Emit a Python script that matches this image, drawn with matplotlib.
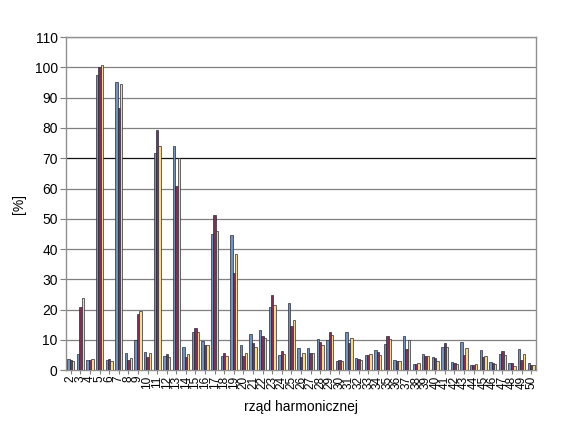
import matplotlib
matplotlib.use("Agg")
import matplotlib.pyplot as plt
import numpy as np

plt.rcParams['font.family'] = ['Liberation Sans', 'DejaVu Sans']

harmonics = list(range(2, 51))
series_a = [3.8, 5.3, 3.5, 97.4, 3.5, 95.3, 5.7, 9.9, 5.9, 71.6, 4.7, 74.2, 7.7, 12.7, 9.5, 45.0, 4.8, 44.8,
            8.2, 11.9, 13.1, 21.0, 4.9, 22.3, 7.3, 7.3, 10.3, 10.1, 3.1, 12.7, 4.1, 5.1, 6.6, 8.6, 3.3, 11.2,
            2.1, 5.3, 4.3, 7.6, 2.7, 9.2, 1.8, 6.8, 2.6, 5.3, 2.2, 6.9, 2.2]
series_b = [3.2, 21.0, 3.3, 100.3, 3.8, 86.7, 3.3, 18.4, 4.2, 79.3, 5.2, 60.9, 4.2, 13.9, 8.2, 51.3, 5.8, 32.1,
            4.6, 8.8, 11.2, 24.9, 6.2, 14.6, 4.4, 5.7, 9.2, 12.7, 3.5, 8.8, 3.6, 5.1, 6.0, 11.2, 2.9, 6.9,
            2.1, 4.7, 3.9, 8.8, 2.2, 5.1, 1.8, 4.2, 2.4, 6.4, 2.2, 3.3, 1.8]
series_c = [3.0, 23.8, 3.6, 100.9, 3.1, 94.6, 4.1, 19.7, 5.5, 74.2, 4.4, 70.0, 5.4, 12.7, 8.2, 45.9, 4.8, 38.4,
            5.7, 7.8, 10.7, 21.5, 5.3, 16.7, 5.5, 5.7, 8.4, 11.6, 3.1, 10.7, 3.5, 5.4, 5.1, 10.4, 3.0, 9.9,
            2.4, 4.8, 3.1, 7.5, 2.1, 7.4, 1.9, 4.8, 2.0, 5.1, 1.5, 5.4, 1.6]
y_ticks = list(range(0, 111, 10))

fig = plt.figure(figsize=(5.69, 4.37), dpi=100)
ax = fig.add_axes([0.116, 0.153, 0.826, 0.762])

x = np.arange(len(harmonics))
w = 0.25
colors = ['#7592b8', '#7a3352', '#f4d894']
for i, (vals, c) in enumerate(zip([series_a, series_b, series_c], colors)):
    ax.bar(x + (i - 1) * w, vals, width=w, color=c, edgecolor='#2a2a3a', linewidth=0.5, zorder=3)

ax.set_xlim(-0.5, len(harmonics) - 0.5)
ax.set_ylim(0, 110)
ax.set_yticks(y_ticks)
ax.set_yticklabels([str(v) for v in y_ticks], fontsize=10)
for v in y_ticks[1:]:
    ax.axhline(v, color='#111111' if v == 70 else '#808080', linewidth=0.9, zorder=1)

ax.set_xticks(x)
ax.set_xticklabels([str(h) for h in harmonics], rotation=90, fontsize=8.5, va='top', ha='center')
ax.tick_params(axis='x', length=3, pad=1, color='#808080')
ax.tick_params(axis='y', length=4, pad=2, color='#808080')

for s in ax.spines.values():
    s.set_color('#909090')
    s.set_linewidth(1.0)

ax.set_ylabel('[%]', fontsize=10, labelpad=6)
ax.set_xlabel('rząd harmonicznej', fontsize=10, labelpad=8)

fig.savefig('out.png', dpi=100)
